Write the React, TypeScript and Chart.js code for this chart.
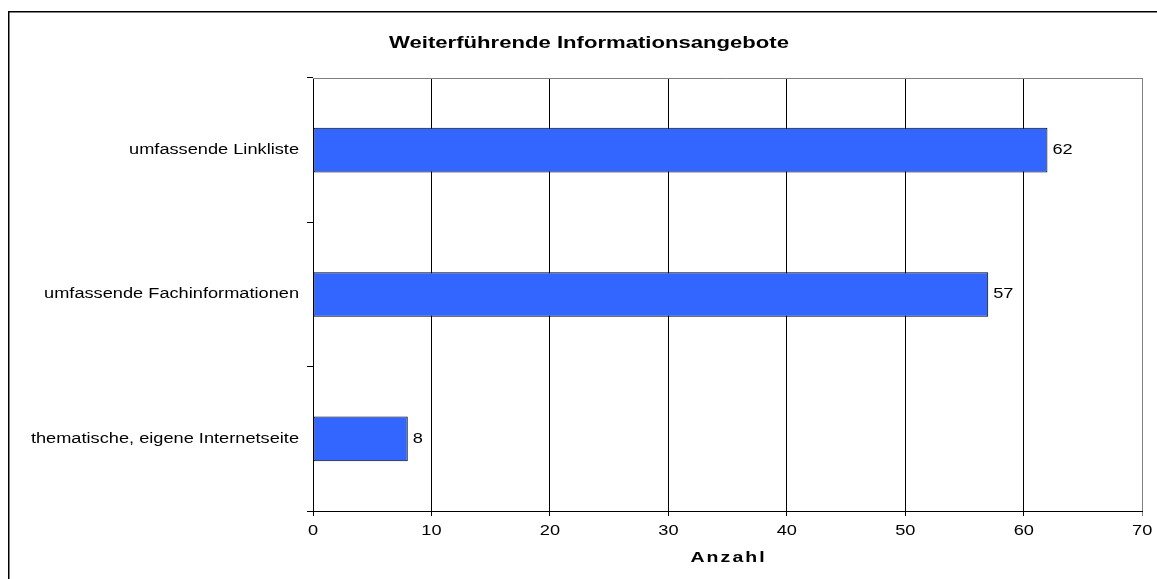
import React, { useEffect, useRef } from 'react';
import { Chart, registerables } from 'chart.js';

Chart.register(...registerables);

const categories = [
  'umfassende Linkliste',
  'umfassende Fachinformationen',
  'thematische, eigene Internetseite',
];
const counts = [62, 57, 8];
const xTicks = [0, 10, 20, 30, 40, 50, 60, 70];
const chartTitle = 'Weiterführende Informationsangebote';
const axisTitle = 'Anzahl';

const SX = 1.3;
const FONT = '"Liberation Sans", Arial, sans-serif';

export default function App() {
  const ref = useRef<HTMLCanvasElement>(null);

  useEffect(() => {
    if (!ref.current) return;

    const stretchPlugin = {
      id: 'stretchText',
      beforeInit(chart: any) {
        const ctx = chart.ctx;
        const orig = ctx.fillText;
        ctx.fillText = (text: string, x: number, y: number) => {
          ctx.save();
          ctx.translate(x, y);
          ctx.scale(SX, 1);
          orig.call(ctx, text, 0, 0);
          ctx.restore();
        };
      },
    };

    const decorPlugin = {
      id: 'decor',
      afterDatasetsDraw(chart: any) {
        const ctx = chart.ctx;
        const meta = chart.getDatasetMeta(0);
        ctx.save();
        ctx.font = `14px ${FONT}`;
        ctx.fillStyle = '#000';
        ctx.textAlign = 'left';
        ctx.textBaseline = 'middle';
        meta.data.forEach((bar: any, i: number) => {
          ctx.fillText(String(counts[i]), bar.x + 5, bar.y);
        });
        ctx.restore();
      },
      afterDraw(chart: any) {
        const ctx = chart.ctx;
        const a = chart.chartArea;
        ctx.save();
        // plot area border (top)
        ctx.strokeStyle = '#808080';
        ctx.lineWidth = 1;
        ctx.beginPath();
        ctx.moveTo(a.left, Math.round(a.top) + 0.5);
        ctx.lineTo(a.right + 0.5, Math.round(a.top) + 0.5);
        ctx.stroke();
        // outer frame
        ctx.strokeStyle = '#000';
        ctx.lineWidth = 1.5;
        ctx.strokeRect(8.75, 11.75, 1400, 900);
        // title
        ctx.fillStyle = '#000';
        ctx.font = `bold 17px ${FONT}`;
        ctx.textAlign = 'center';
        ctx.textBaseline = 'middle';
        ctx.fillText(chartTitle, 589, 43);
        // axis title
        ctx.font = `bold 15px ${FONT}`;
        (ctx as any).letterSpacing = '1.6px';
        ctx.fillText(axisTitle, (a.left + a.right) / 2 + 1, 558);
        ctx.restore();
      },
    };

    const chart = new Chart(ref.current, {
      type: 'bar',
      data: {
        labels: categories,
        datasets: [
          {
            data: counts,
            backgroundColor: '#3366FF',
            borderColor: '#000000',
            borderWidth: 1,
            borderSkipped: false,
            barPercentage: 0.31,
            categoryPercentage: 1,
          },
        ],
      },
      options: {
        indexAxis: 'y',
        animation: false,
        responsive: false,
        layout: { padding: { top: 78, right: 14, bottom: 0, left: 0 } },
        plugins: {
          legend: { display: false },
          title: { display: false },
          tooltip: { enabled: false },
        },
        scales: {
          x: {
            min: 0,
            max: 70,
            afterBuildTicks: (scale: any) => {
              scale.ticks = xTicks.map((v) => ({ value: v }));
            },
            afterFit: (scale: any) => {
              scale.height = 68;
            },
            grid: {
              color: (c: any) => (c.tick && c.tick.value === 70 ? '#808080' : '#000000'),
              lineWidth: 1,
              drawTicks: true,
              tickLength: 5,
            },
            border: { color: '#000000', width: 1 },
            ticks: {
              color: '#000',
              font: { family: FONT, size: 14 },
              padding: 7,
              maxRotation: 0,
              autoSkip: false,
            },
          },
          y: {
            afterFit: (scale: any) => {
              scale.width = 313;
            },
            grid: {
              offset: true,
              drawOnChartArea: false,
              drawTicks: true,
              tickLength: 6,
              color: '#000000',
            },
            border: { color: '#000000', width: 1 },
            ticks: {
              color: '#000',
              font: { family: FONT, size: 14 },
              padding: 8,
              autoSkip: false,
            },
          },
        },
      },
      plugins: [stretchPlugin, decorPlugin],
    });

    return () => chart.destroy();
  }, []);

  return (
    <div style={{ position: 'absolute', left: 0, top: 0, width: 1157, height: 579, background: '#fff' }}>
      <canvas ref={ref} width={1157} height={579} style={{ display: 'block' }} />
    </div>
  );
}
